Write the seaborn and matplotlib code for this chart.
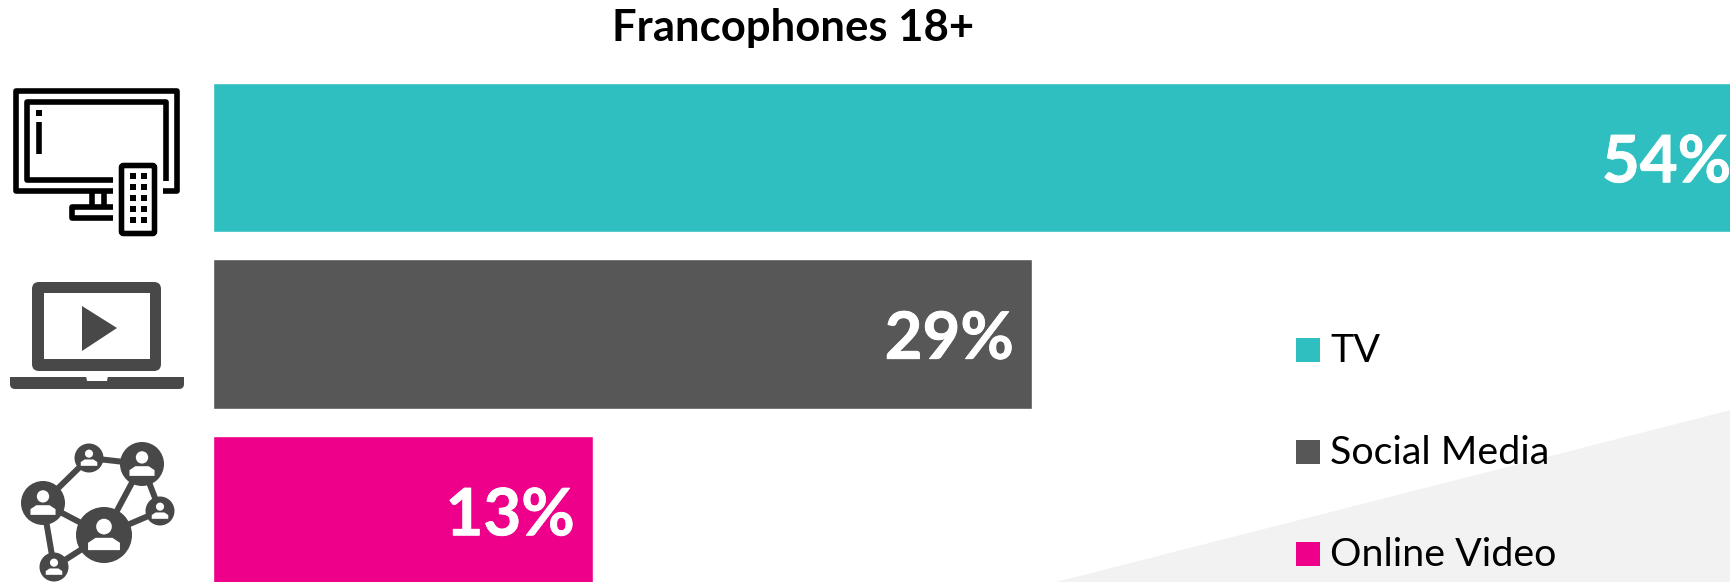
import pandas as pd
import matplotlib.pyplot as plt
import matplotlib.patheffects as pe
from matplotlib.patches import Circle, FancyBboxPatch, Polygon, Rectangle
import seaborn as sns

# data
channels = ['TV', 'Social Media', 'Online Video']
bar_lengths = [54.4, 29.0, 13.45]
value_labels = ['54%', '29%', '13%']
bar_colors = ['#30BFC1', '#575757', '#EE008B']
title = 'Francophones 18+'

sns.set_theme(style='white')
plt.rcParams['font.family'] = ['Lato', 'DejaVu Sans']

W, H = 1731, 582
DARK = '#484848'
fig = plt.figure(figsize=(W / 100, H / 100), dpi=100)

# pixel layer for background, icons, title and legend
bg = fig.add_axes([0, 0, 1, 1], zorder=0)
bg.set_xlim(0, W)
bg.set_ylim(H, 0)
bg.axis('off')


def line(xs, ys, color='black', px=5.6):
    bg.plot(xs, ys, color=color, lw=px * 0.72, solid_capstyle='butt', solid_joinstyle='round', zorder=0.5)


def rbox(x0, y0, x1, y1, r, **kw):
    bg.add_patch(FancyBboxPatch((x0 + r, y0 + r), x1 - x0 - 2 * r, y1 - y0 - 2 * r,
                                boxstyle=f'round,pad={r},rounding_size={r}', **kw))


# grey corner of the slide
bg.add_patch(Polygon([(1056, 582), (1731, 410), (1731, 582)], color='#F2F2F2', lw=0))

# tv icon
line([113, 16.5, 16.5, 177.5, 177.5, 163], [190.5, 190.5, 90.5, 90.5, 190.5, 190.5])
line([113, 27.5, 27.5, 166, 166], [179.5, 179.5, 101.5, 101.5, 181])
bg.add_patch(Rectangle((36, 110), 6, 6, color='black', lw=0))
line([39, 39], [122, 154])
line([92, 92], [193, 205])
line([104, 104], [193, 205])
line([113, 72.5, 72.5, 113], [206.5, 206.5, 217.5, 217.5])
rbox(121.5, 165.5, 154.5, 233.5, 2, fc='white', ec='black', lw=4)
for bx in [133, 144]:
    for by in [176, 187, 198, 209, 220]:
        bg.add_patch(Rectangle((bx - 3, by - 3), 6, 6, color='black', lw=0))

# laptop icon
rbox(32, 282, 161, 371, 7, fc=DARK, ec='none')
bg.add_patch(Rectangle((44, 293), 106, 66, color='white', lw=0))
bg.add_patch(Polygon([(82, 306), (82, 351), (117, 328)], color=DARK, lw=0))
rbox(10, 377, 184, 389, 5, fc=DARK, ec='none')
bg.add_patch(Rectangle((10, 377), 174, 6, color=DARK, lw=0))
bg.add_patch(Polygon([(86, 376), (87, 381), (107, 381), (108, 376)], color='white', lw=0))

# network icon
nodes = [(43, 503, 22), (89, 458, 14.5), (142, 464, 22),
         (160, 511, 14.5), (104, 535, 28), (54, 567, 14.5)]
edges = [(0, 1), (1, 2), (2, 3), (2, 4), (3, 4), (0, 4), (0, 5), (5, 4)]
for a, b in edges:
    line([nodes[a][0], nodes[b][0]], [nodes[a][1], nodes[b][1]], color=DARK, px=6)
for cx, cy, r in nodes:
    bg.add_patch(Circle((cx, cy), r, color=DARK, lw=0))
    bg.add_patch(Circle((cx, cy - 0.3 * r), 0.28 * r, color='white', lw=0))
    bg.add_patch(Polygon([(cx - 0.57 * r, cy + 0.54 * r), (cx - 0.57 * r, cy + 0.28 * r),
                          (cx - 0.3 * r, cy + 0.1 * r), (cx + 0.3 * r, cy + 0.1 * r),
                          (cx + 0.57 * r, cy + 0.28 * r), (cx + 0.57 * r, cy + 0.54 * r)],
                         color='white', lw=0))

bg.text(793, 28, title, fontsize=31.4, fontweight='bold', color='black', ha='center', va='center')

# legend
for name, color, ly in zip(channels, bar_colors, [350, 452, 554]):
    bg.add_patch(Rectangle((1296, ly - 12), 24, 24, color=color, lw=0))
    bg.text(1330, ly + 1, name, fontsize=28.4, color='black', ha='left', va='center')

# bars
df = pd.DataFrame({'channel': channels, 'share': bar_lengths})
ax = fig.add_axes([213 / W, 0, 1 - 213 / W, 1], zorder=1)
sns.barplot(data=df, x='share', y='channel', hue='channel', palette=bar_colors,
            order=channels, hue_order=channels, width=0.845, saturation=1,
            legend=False, dodge=False, ax=ax)
ax.set_xlim(0, (W - 213) / 28.24)
ax.set_ylim(2.405, -0.892)
ax.patch.set_alpha(0)
ax.axis('off')

for i, (val, lab) in enumerate(zip(bar_lengths, value_labels)):
    ax.annotate(lab, (val, i), xytext=(-13, -4.5), textcoords='offset points', annotation_clip=False,
                ha='right', va='center', color='white', fontsize=47, fontweight='bold',
                path_effects=[pe.withStroke(linewidth=0.6, foreground='white')])

fig.savefig('out.png', dpi=100)
